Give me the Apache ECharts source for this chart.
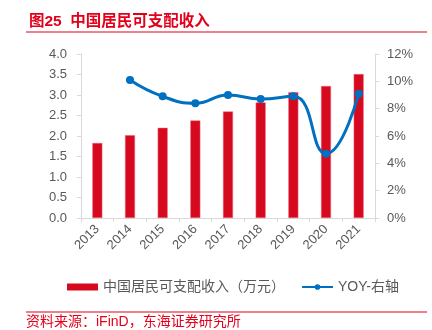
<!DOCTYPE html>
<html><head><meta charset="utf-8">
<script src="https://cdn.jsdelivr.net/npm/echarts@6/dist/echarts.min.js"></script>
<style>html,body{margin:0;padding:0;background:#fff}#c{width:432px;height:330px}</style>
</head><body><div id="c"></div>
<script>
const years = ['2013','2014','2015','2016','2017','2018','2019','2020','2021'];
const income = [1.83, 2.02, 2.20, 2.38, 2.60, 2.82, 3.07, 3.22, 3.51];
const yoy = [null, 10.1, 8.9, 8.4, 9.0, 8.7, 8.9, 4.7, 9.1];
const leftTicks = [0, 4, 0.5];
const rightTicks = [0, 12, 2];
const barName = '中国居民可支配收入（万元）';
const lineName = 'YOY-右轴';
const titleText = '图25  中国居民可支配收入';
const sourceText = '资料来源：iFinD，东海证券研究所';

const FONT = '"Liberation Sans","Noto Sans CJK SC",sans-serif';
const red = '#D7091F';
const titleRed = '#E3001B';
const grey = '#595959';
const axisGrey = '#D9D9D9';

const chart = echarts.init(document.getElementById('c'));
chart.setOption({
  animation: false,
  textStyle: {fontFamily: FONT},
  title: {
    text: titleText, left: 24, top: 9,
    textStyle: {color: titleRed, fontSize: 15.5, fontWeight: 'bold', fontFamily: FONT}
  },
  graphic: [
    {type: 'line', shape: {x1: 26, y1: 32, x2: 427, y2: 32}, style: {stroke: titleRed, lineWidth: 1}},
    {type: 'line', shape: {x1: 26, y1: 312, x2: 427, y2: 312}, style: {stroke: titleRed, lineWidth: 1}},
    {type: 'text', left: 26, top: 315, style: {text: sourceText, fill: titleRed, fontSize: 14, fontFamily: FONT}}
  ],
  legend: {
    top: 275, left: 62,
    itemWidth: 31, itemHeight: 7, itemGap: 16,
    textStyle: {color: grey, fontSize: 14, fontFamily: FONT},
    data: [{name: barName, icon: 'rect', itemStyle: {borderWidth: 0}}, {name: lineName}]
  },
  grid: {left: 81, right: 57, top: 54, bottom: 112},
  xAxis: {
    type: 'category', data: years, boundaryGap: true,
    axisLine: {lineStyle: {color: axisGrey}},
    axisTick: {show: true, length: 4, lineStyle: {color: axisGrey}},
    axisLabel: {color: grey, fontSize: 13, rotate: 45, margin: 9}
  },
  yAxis: [
    {
      type: 'value', min: leftTicks[0], max: leftTicks[1], interval: leftTicks[2],
      axisLine: {show: true, lineStyle: {color: axisGrey}},
      axisTick: {show: true, length: 4, lineStyle: {color: axisGrey}},
      splitLine: {show: false},
      axisLabel: {color: grey, fontSize: 13, margin: 14, formatter: v => v.toFixed(1)}
    },
    {
      type: 'value', min: rightTicks[0], max: rightTicks[1], interval: rightTicks[2],
      axisLine: {show: true, lineStyle: {color: axisGrey}},
      axisTick: {show: true, length: 4, lineStyle: {color: axisGrey}},
      splitLine: {show: false},
      axisLabel: {color: grey, fontSize: 13, margin: 12, formatter: v => v + '%'}
    }
  ],
  series: [
    {
      name: barName, type: 'bar', data: income, barWidth: 10,
      itemStyle: {color: red, borderColor: '#E8707E', borderWidth: 0.5}
    },
    {
      name: lineName, type: 'line', yAxisIndex: 1, data: yoy, smooth: 0.5,
      symbol: 'circle', symbolSize: 8, connectNulls: false,
      lineStyle: {color: '#0070C0', width: 3},
      itemStyle: {color: '#0070C0'}
    }
  ]
});
</script></body></html>
